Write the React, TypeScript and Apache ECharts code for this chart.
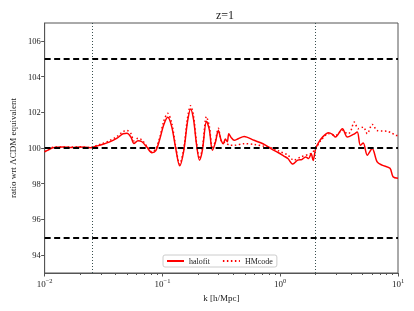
import React, { useEffect, useRef } from "react";
import * as echarts from "echarts";

// k [h/Mpc] and ratio values
const kHalofit = [0.01, 0.0108, 0.0117, 0.0142, 0.0172, 0.0201, 0.0244, 0.028, 0.0308, 0.0353, 0.0412, 0.0463, 0.05, 0.0541, 0.0573, 0.062, 0.067, 0.0738, 0.0813, 0.0879, 0.095, 0.1026, 0.1109, 0.1199, 0.1295, 0.14, 0.1513, 0.1635, 0.1733, 0.1837, 0.1947, 0.2063, 0.2186, 0.2364, 0.2505, 0.2655, 0.2813, 0.2982, 0.3161, 0.3287, 0.3418, 0.3555, 0.3659, 0.3838, 0.4069, 0.4397, 0.494, 0.6, 0.7136, 0.8336, 0.9745, 1.073, 1.161, 1.279, 1.409, 1.523, 1.645, 1.743, 1.831, 1.903, 1.997, 2.117, 2.287, 2.57, 2.778, 2.945, 3.374, 3.718, 4.178, 4.511, 4.785, 5.072, 5.483, 6.039, 6.652, 7.327, 8.556, 9.071, 10.0];
const halofit = [99.78, 99.9, 100.02, 100.05, 100.03, 100.06, 100.02, 100.12, 100.2, 100.33, 100.55, 100.8, 100.82, 100.6, 100.25, 100.4, 100.35, 100.05, 99.74, 99.85, 100.5, 101.3, 101.72, 101.2, 100.0, 99.0, 99.8, 101.5, 102.19, 101.6, 100.2, 99.32, 99.9, 101.5, 101.0, 99.87, 100.3, 100.98, 100.4, 100.24, 100.5, 100.35, 100.8, 100.58, 100.43, 100.52, 100.65, 100.43, 100.24, 99.97, 99.72, 99.55, 99.41, 99.1, 99.32, 99.35, 99.5, 99.41, 99.69, 99.3, 99.95, 100.3, 100.61, 100.85, 100.76, 100.61, 101.08, 100.61, 100.76, 100.89, 100.15, 100.28, 99.6, 99.97, 99.22, 99.04, 98.86, 98.39, 98.3];

const kHMcode = [0.01, 0.0108, 0.0117, 0.0142, 0.0172, 0.0201, 0.0244, 0.028, 0.0308, 0.0353, 0.0412, 0.0463, 0.05, 0.0541, 0.0573, 0.062, 0.067, 0.0738, 0.0813, 0.0879, 0.095, 0.1026, 0.1109, 0.1199, 0.1295, 0.14, 0.1513, 0.1635, 0.1733, 0.1837, 0.1947, 0.2063, 0.2186, 0.2364, 0.2505, 0.2655, 0.2813, 0.2982, 0.3161, 0.3418, 0.3765, 0.4069, 0.494, 0.6, 0.728, 0.8336, 0.9745, 1.161, 1.303, 1.493, 1.813, 1.997, 2.202, 2.57, 2.945, 3.374, 3.718, 3.938, 4.256, 4.603, 5.072, 5.483, 6.039, 6.652, 7.327, 8.07, 8.89, 9.62, 10.0];
const hmcode = [99.8, 99.92, 100.04, 100.06, 100.05, 100.07, 100.02, 100.15, 100.25, 100.4, 100.65, 100.92, 100.98, 100.8, 100.4, 100.55, 100.45, 100.1, 99.78, 99.95, 100.6, 101.5, 101.94, 101.4, 100.1, 99.1, 99.9, 101.7, 102.37, 101.8, 100.3, 99.4, 100.0, 101.76, 101.2, 99.95, 100.4, 101.1, 100.4, 100.3, 100.15, 100.15, 100.24, 100.2, 100.1, 100.02, 99.83, 99.6, 99.32, 99.5, 99.69, 99.95, 100.4, 100.8, 100.7, 101.0, 100.8, 100.89, 101.45, 101.08, 101.17, 100.8, 101.32, 100.98, 100.95, 100.94, 100.83, 100.7, 100.7];

const refLevels = [95, 100, 105];
const scaleLines = [0.025, 2];
const yTicks = [94, 96, 98, 100, 102, 104, 106];
const xDecades = [-2, -1, 0, 1];
const minorMultipliers = [2, 3, 4, 5, 6, 7, 8, 9];

const FONT = "Liberation Serif";
const SPINE = "#555";

export default function App() {
  const ref = useRef<HTMLDivElement>(null);
  useEffect(() => {
    if (!ref.current) return;
    const chart = echarts.init(ref.current, undefined, { renderer: "svg" });
    const minorLog: number[] = [];
    xDecades.slice(0, 3).forEach((d) =>
      minorMultipliers.forEach((m) => minorLog.push(d + Math.log10(m)))
    );
    const toPairs = (ks: number[], vs: number[]) => ks.map((k, i) => [Math.log10(k), vs[i]]);
    const option: any = {
      animation: false,
      title: {
        text: "z=1",
        left: 220,
        top: 4,
        textAlign: "center",
        textStyle: { fontFamily: FONT, fontSize: 12, fontWeight: "normal", color: "#222" },
      },
      grid: { left: 42, right: 16, top: 23, bottom: 38, show: true, borderColor: SPINE, borderWidth: 1, backgroundColor: "transparent" },
      legend: {
        left: 163,
        top: 255,
        orient: "horizontal",
        itemWidth: 17,
        itemHeight: 8,
        itemGap: 12,
        padding: [2, 4, 2, 3],
        borderColor: "#ccc",
        borderWidth: 1,
        borderRadius: 2,
        backgroundColor: "rgba(255,255,255,0.8)",
        itemStyle: { opacity: 0 },
        textStyle: { fontFamily: FONT, fontSize: 8, color: "#222", padding: [0, 0, 0, 0] },
        data: ["halofit", "HMcode"],
      },
      xAxis: [
        {
          type: "value",
          min: -2,
          max: 1,
          interval: 1,
          position: "bottom",
          axisLine: { show: true, onZero: false, lineStyle: { color: SPINE, width: 1 } },
          axisTick: { show: true, length: 3.5, lineStyle: { color: SPINE } },
          splitLine: { show: false },
          axisLabel: {
            margin: 4,
            fontFamily: FONT,
            fontSize: 9,
            color: "#222",
            formatter: (v: number) => "10{sup|" + (v < 0 ? "\u2212" + -v : String(v)) + "}",
            rich: {
              sup: { fontFamily: FONT, fontSize: 6.5, color: "#222", padding: [0, 0, 6, 0] },
            },
          },
          name: "k [h/Mpc]",
          nameLocation: "middle",
          nameGap: 20,
          nameTextStyle: { fontFamily: FONT, fontSize: 9, color: "#222" },
        },
        {
          type: "value",
          min: -2,
          max: 1,
          position: "bottom",
          axisLine: { show: false, onZero: false },
          axisTick: { show: true, length: 2, customValues: minorLog, lineStyle: { color: SPINE } },
          axisLabel: { show: false },
          splitLine: { show: false },
        },
      ],
      yAxis: {
        type: "value",
        min: 93,
        max: 107,
        axisLine: { show: true, onZero: false, lineStyle: { color: SPINE, width: 1 } },
        axisTick: { show: true, length: 3.5, customValues: yTicks, lineStyle: { color: SPINE } },
        splitLine: { show: false },
        axisLabel: { customValues: yTicks, margin: 4, fontFamily: FONT, fontSize: 8.5, color: "#222" },
        name: "ratio wrt \u039bCDM equivalent",
        nameLocation: "middle",
        nameGap: 22,
        nameRotate: 90,
        nameTextStyle: { fontFamily: FONT, fontSize: 9, color: "#222" },
      },
      series: [
        {
          name: "halofit",
          type: "line",
          data: toPairs(kHalofit, halofit),
          showSymbol: false,
          symbol: "none",
          smooth: 0.3,
          lineStyle: { color: "#ff0000", width: 1.5 },
          itemStyle: { color: "#ff0000" },
          z: 3,
        },
        {
          name: "HMcode",
          type: "line",
          data: toPairs(kHMcode, hmcode),
          showSymbol: false,
          symbol: "none",
          smooth: 0.3,
          lineStyle: { color: "#ff0000", width: 1.5, type: [1.5, 2.5] },
          itemStyle: { color: "#ff0000" },
          z: 3,
        },
        {
          name: "refs",
          type: "line",
          data: [],
          z: 4,
          markLine: {
            silent: true,
            symbol: "none",
            label: { show: false },
            lineStyle: { color: "#000", width: 1.8, type: [6, 3.5] },
            data: refLevels.map((v) => ({ yAxis: v })),
          },
        },
        {
          name: "scales",
          type: "line",
          data: [],
          z: 2,
          markLine: {
            silent: true,
            symbol: "none",
            label: { show: false },
            lineStyle: { color: "#3a5050", width: 1, type: [1, 2] },
            data: scaleLines.map((k) => ({ xAxis: Math.log10(k) })),
          },
        },
      ],
    };
    chart.setOption(option);
    return () => chart.dispose();
  }, []);
  return <div ref={ref} style={{ position: "fixed", left: 0, top: 0, width: 414, height: 311 }} />;
}
